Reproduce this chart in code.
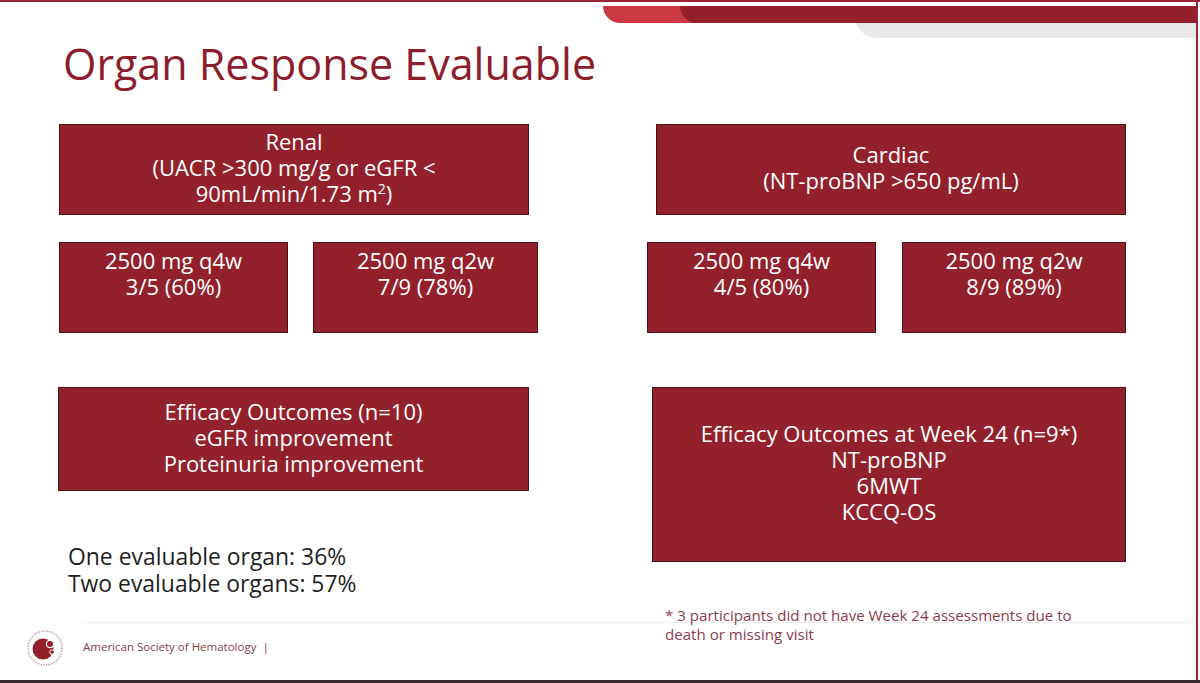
<!DOCTYPE html>
<html lang="en">
<head>
  <meta charset="UTF-8">
  <title>Organ Response Evaluable</title>
  <script src="https://cdn.jsdelivr.net/npm/chart.js"></script>
  <style>
    html, body {
      margin: 0;
      padding: 0;
      width: 1200px;
      height: 683px;
      overflow: hidden;
      background: #ffffff;
      font-family: 'Open Sans', 'Noto Sans', sans-serif;
    }
    .slide {
      position: relative;
      width: 1200px;
      height: 683px;
    }
    .frame-top { position: absolute; left: 0; top: 0; width: 1200px; height: 2px; background: #9a2436; }
    .frame-right { position: absolute; left: 1196px; top: 0; width: 2px; height: 683px; background: #9a2436; }
    .frame-bottom { position: absolute; left: 0; top: 680px; width: 1200px; height: 3px; background: #3a2a2e; }
    .band-grey {
      position: absolute; left: 855px; top: 14px; width: 341px; height: 24px;
      background: #e8e8e9; border-bottom-left-radius: 22px;
    }
    .band-light {
      position: absolute; left: 603px; top: 6px; width: 593px; height: 17px;
      background: #c9393f; border-bottom-left-radius: 18px;
    }
    .band-dark {
      position: absolute; left: 680px; top: 6px; width: 516px; height: 17px;
      background: #93212b; border-bottom-left-radius: 18px;
    }
    h1 {
      position: absolute; left: 63px; top: 34px; margin: 0;
      font-weight: 400; font-size: 43px; color: #8c1d2c;
    }
    .box {
      position: absolute;
      box-sizing: border-box;
      background: #93212b;
      border: 1px solid #4d1218;
      color: #ffffff;
      font-size: 22px;
      line-height: 26px;
      text-align: center;
      display: flex;
      flex-direction: column;
      justify-content: center;
      padding-bottom: 5px;
    }
    .box.top { justify-content: flex-start; padding-top: 4px; padding-bottom: 0; }
    .note {
      position: absolute; left: 68px; top: 543px;
      font-size: 22.9px; line-height: 27px; color: #1f1f1f;
    }
    .foot-line { position: absolute; left: 83px; top: 622px; width: 1113px; height: 1px; background: #ececec; }
    .footnote {
      position: absolute; left: 665px; top: 606px;
      font-size: 15.1px; line-height: 19px; color: #8a3d4c;
    }
    .society {
      position: absolute; left: 83px; top: 639px;
      font-size: 11.5px; color: #7d3f4d;
    }
    .logo { position: absolute; left: 26px; top: 629px; }
  </style>
</head>
<body>
<div class="slide" id="slide">
  <div class="band-grey"></div>
  <div class="band-light"></div>
  <div class="band-dark"></div>
  <div class="frame-top"></div>
  <div class="frame-right"></div>
  <div class="frame-bottom"></div>
  <h1 id="title"></h1>
  <div class="foot-line"></div>
  <svg class="logo" width="38" height="38" viewBox="0 0 38 38">
    <circle cx="19" cy="19" r="17" fill="none" stroke="#c9a3aa" stroke-width="1.6" stroke-dasharray="1.5 1.2"/>
    <circle cx="17" cy="20" r="10.5" fill="#93212b"/>
    <circle cx="24" cy="15" r="4.2" fill="#ffffff"/>
    <circle cx="24" cy="15" r="3" fill="#93212b"/>
    <circle cx="26" cy="23" r="2.6" fill="#ffffff"/>
    <circle cx="26" cy="23" r="1.8" fill="#93212b"/>
  </svg>
  <div class="society" id="society"></div>
  <div class="note" id="note"></div>
  <div class="footnote" id="footnote"></div>
</div>
<script>
  // slide content
  const slideTitle = "Organ Response Evaluable";
  const organs = ["Renal", "Cardiac"];
  const organCriteria = [
    ["(UACR >300 mg/g or eGFR <", "90mL/min/1.73 m<sup style=\"font-size:14px;line-height:0\">2</sup>)"],
    ["(NT-proBNP >650 pg/mL)"]
  ];
  const doseGroups = ["2500 mg q4w", "2500 mg q2w"];
  const renalResponders = ["3/5 (60%)", "7/9 (78%)"];
  const cardiacResponders = ["4/5 (80%)", "8/9 (89%)"];
  const renalOutcomes = ["Efficacy Outcomes (n=10)", "eGFR improvement", "Proteinuria improvement"];
  const cardiacOutcomes = ["Efficacy Outcomes at Week 24 (n=9*)", "NT-proBNP", "6MWT", "KCCQ-OS"];
  const evaluableLabels = ["One evaluable organ", "Two evaluable organs"];
  const evaluablePct = [36, 57];
  const footnoteText = ["* 3 participants did not have Week 24 assessments due to", "death or missing visit"];
  const societyText = "American Society of Hematology&nbsp;&nbsp;|";

  // layout of the boxes [left, top, width, height]
  const layout = {
    organ:   [[59, 124, 470, 91], [656, 124, 470, 91]],
    dose:    [[[59, 242, 229, 91], [313, 242, 225, 91]], [[647, 242, 229, 91], [902, 242, 224, 91]]],
    outcome: [[58, 387, 471, 104], [652, 387, 474, 175]]
  };

  const slide = document.getElementById("slide");
  function addBox(rect, lines, cls) {
    const d = document.createElement("div");
    d.className = "box" + (cls ? " " + cls : "");
    d.style.left = rect[0] + "px";
    d.style.top = rect[1] + "px";
    d.style.width = rect[2] + "px";
    d.style.height = rect[3] + "px";
    d.innerHTML = lines.map(l => `<div>${l}</div>`).join("");
    slide.appendChild(d);
  }

  document.getElementById("title").textContent = slideTitle;
  organs.forEach((o, i) => addBox(layout.organ[i], [o].concat(organCriteria[i])));
  [renalResponders, cardiacResponders].forEach((resp, i) => {
    doseGroups.forEach((g, j) => addBox(layout.dose[i][j], [g, resp[j]], "top"));
  });
  addBox(layout.outcome[0], renalOutcomes);
  addBox(layout.outcome[1], cardiacOutcomes);
  document.getElementById("note").innerHTML =
    evaluableLabels.map((l, i) => `${l}: ${evaluablePct[i]}%`).join("<br>");
  document.getElementById("footnote").innerHTML = footnoteText.join("<br>");
  document.getElementById("society").innerHTML = societyText;
</script>
</body>
</html>
